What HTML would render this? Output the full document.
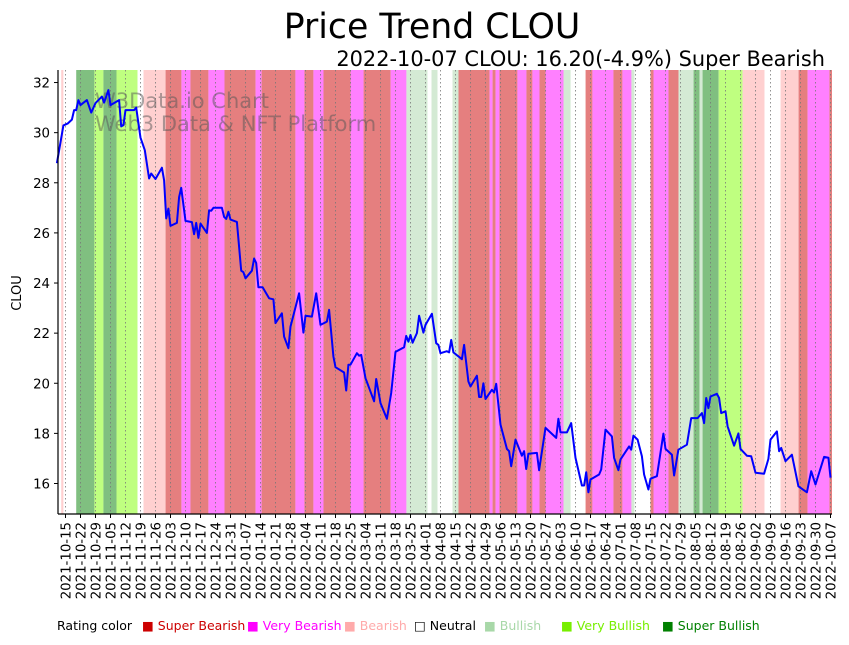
<!DOCTYPE html>
<html><head><meta charset="utf-8">
<style>
html,body{margin:0;padding:0;background:#fff;}
body{width:849px;height:641px;overflow:hidden;position:relative;font-family:"DejaVu Sans","Liberation Sans",sans-serif;}
svg text{font-family:"DejaVu Sans","Liberation Sans",sans-serif;}
</style></head>
<body>
<svg id="chart" width="849" height="641" viewBox="0 0 849 641" xmlns="http://www.w3.org/2000/svg">
  <text x="432" y="38" font-size="34.7" text-anchor="middle" fill="#000">Price Trend CLOU</text>
  <text x="825" y="66" font-size="20.9" text-anchor="end" fill="#000">2022-10-07 CLOU: 16.20(-4.9%) Super Bearish</text>
  <g id="bands"></g>
  <g id="grid"></g>
  <g fill="#555" fill-opacity="0.5" font-size="21">
    <text x="95" y="108">W3Data.io Chart</text>
    <text x="95" y="131">Web3 Data &amp; NFT Platform</text>
  </g>
  <g id="line"></g>
  <g id="axes"></g>
  <text transform="translate(21,293) rotate(-90)" font-size="13" text-anchor="middle">CLOU</text>
  <g font-size="12.5">
    <text x="57" y="630" fill="#000">Rating color</text>
    <text x="142" y="630" fill="#cc0000">■ Super Bearish</text>
    <text x="247" y="630" fill="#ff00ff">■ Very Bearish</text>
    <text x="344" y="630" fill="#ffaaaa">■ Bearish</text>
    <text x="414" y="630" fill="#000">□ Neutral</text>
    <text x="484" y="630" fill="#a8d8a8">■ Bullish</text>
    <text x="561" y="630" fill="#77ee00">■ Very Bullish</text>
    <text x="662" y="630" fill="#008000">■ Super Bullish</text>
  </g>
</svg>
<script>
// day offsets relative to 2021-10-15
const priceDays = [-4,-1,1,3,4,5,6,7,10,12,14,17,18,20,21,25,26,27,28,32,33,35,37,39,40,42,45,46,47,48,49,52,53,54,56,59,60,61,62,63,66,67,68,69,73,74,75,76,77,80,82,83,84,87,88,89,90,92,95,97,98,101,102,104,105,109,111,112,115,117,119,122,123,125,126,130,131,132,133,136,137,138,140,144,145,147,150,152,154,158,159,160,161,162,164,165,167,168,171,173,174,175,178,179,180,181,185,186,188,189,192,193,194,195,196,199,200,201,203,206,207,208,210,213,214,215,216,220,221,224,229,230,231,234,236,238,241,242,243,244,245,249,250,252,255,256,258,259,263,264,265,267,269,270,272,273,276,279,280,283,284,286,290,292,295,297,298,299,300,301,304,305,306,308,309,312,314,315,318,320,322,326,328,329,332,333,334,336,339,342,346,348,350,354,356,357];
const priceValues = [28.78,30.29,30.36,30.52,30.9,30.9,31.3,31.1,31.3,30.8,31.18,31.44,31.2,31.7,31.1,31.3,30.25,30.3,30.9,30.9,31.0,29.8,29.3,28.17,28.37,28.15,28.6,28.1,26.58,26.97,26.28,26.4,27.43,27.8,26.48,26.43,25.95,26.4,25.8,26.37,26.0,26.9,26.88,27.0,27.0,26.64,26.56,26.84,26.53,26.44,24.49,24.43,24.19,24.49,24.98,24.8,23.83,23.83,23.39,23.35,22.4,22.79,21.86,21.4,22.26,23.59,22.02,22.69,22.66,23.59,22.33,22.46,22.93,21.07,20.64,20.43,19.71,20.74,20.74,21.2,21.1,21.13,20.2,19.28,20.17,19.21,18.58,19.61,21.25,21.44,21.89,21.66,21.93,21.62,22.0,22.69,22.02,22.33,22.77,21.6,21.53,21.2,21.28,21.23,21.73,21.23,20.96,21.53,20.07,19.87,20.3,19.45,19.45,20.0,19.37,19.74,19.63,19.98,18.35,17.38,17.29,16.69,17.75,17.11,17.29,16.58,17.19,17.22,16.53,18.22,17.82,18.58,18.04,18.04,18.41,17.02,15.92,15.92,16.45,15.65,16.16,16.36,16.56,18.15,17.88,17.02,16.53,16.96,17.48,17.35,17.91,17.75,17.09,16.36,15.76,16.19,16.29,17.99,17.38,17.15,16.32,17.35,17.55,18.61,18.61,18.81,18.41,19.41,19.01,19.47,19.58,19.41,18.81,18.88,18.28,17.51,18.0,17.38,17.11,17.09,16.43,16.39,16.98,17.75,18.08,17.29,17.42,16.89,17.15,15.89,15.65,16.49,15.96,17.06,17.03,16.23];
const bandStart = [-2,5,13.5,17.7,23.8,36.4,46.7,54.1,58.3,66.7,74.2,88.7,91.5,107.3,111.5,115.7,120.4,133,139.1,151.7,159.1,170.8,180.6,183.4,197.9,199.3,200.7,202.5,210.9,215.1,217.9,221.2,224,232.4,242.7,245.9,255.7,259.9,264.1,273,274.4,281.4,286.1,293.1,295.9,297.3,304.8,316,333.7,342.1,346.3,356.5];
const bandEnd = [-1,13.5,17.7,23.8,33.6,46.7,54.1,58.3,66.7,74.2,88.7,91.5,107.3,111.5,115.7,120.4,133,139.1,151.7,159.1,168.9,173.6,183.4,197.9,199.3,200.7,202.5,210.9,215.1,217.9,221.2,224,232.4,235.7,245.9,255.7,259.9,264.1,265.5,274.4,281.4,286.1,293.1,295.9,297.3,304.8,316,326.2,342.1,346.3,356.5,358];
const bandRating = ['bearish','superbull','verybull','superbull','verybull','bearish','superbear','verybear','superbear','verybear','superbear','verybear','superbear','verybear','superbear','verybear','superbear','verybear','superbear','verybear','bullish','bullish','bullish','superbear','verybear','superbear','verybear','superbear','verybear','superbear','verybear','superbear','verybear','bullish','superbear','verybear','superbear','verybear','bullish','superbear','verybear','superbear','bullish','superbull','bullish','superbull','verybull','bearish','bearish','superbear','verybear','superbear'];
const tickLabels = ['2021-10-15','2021-10-22','2021-10-29','2021-11-05','2021-11-12','2021-11-19','2021-11-26','2021-12-03','2021-12-10','2021-12-17','2021-12-24','2021-12-31','2022-01-07','2022-01-14','2022-01-21','2022-01-28','2022-02-04','2022-02-11','2022-02-18','2022-02-25','2022-03-04','2022-03-11','2022-03-18','2022-03-25','2022-04-01','2022-04-08','2022-04-15','2022-04-22','2022-04-29','2022-05-06','2022-05-13','2022-05-20','2022-05-27','2022-06-03','2022-06-10','2022-06-17','2022-06-24','2022-07-01','2022-07-08','2022-07-15','2022-07-22','2022-07-29','2022-08-05','2022-08-12','2022-08-19','2022-08-26','2022-09-02','2022-09-09','2022-09-16','2022-09-23','2022-09-30','2022-10-07'];
const yTicks = [16,18,20,22,24,26,28,30,32];

const NS='http://www.w3.org/2000/svg';
const PL=58, PR=832, PT=70, PB=514;
const colors={superbear:'#e57f7f',verybear:'#ff80ff',bearish:'#ffd0d0',bullish:'#d4ead4',verybull:'#bfff80',superbull:'#80bf80'};
function xScale(d){return 65.5+d*(765/357);}
function yScale(v){return 483.5-(v-16)*25.06;}
function mk(tag,attrs,parent){const e=document.createElementNS(NS,tag);for(const k in attrs)e.setAttribute(k,attrs[k]);parent.appendChild(e);return e;}

const bands=document.getElementById('bands');
for(let i=0;i<bandStart.length;i++){
  const x0=Math.max(PL,xScale(bandStart[i])), x1=Math.min(PR,xScale(bandEnd[i]));
  const r=mk('rect',{x:x0,y:PT,width:Math.max(0,x1-x0),height:PB-PT,fill:colors[bandRating[i]]},bands);
  
  
}
const grid=document.getElementById('grid');
const axes=document.getElementById('axes');
tickLabels.forEach((lab,i)=>{
  const x=xScale(i*7);
  const g=mk('line',{x1:x,x2:x,y1:PT,y2:PB,stroke:'#777','stroke-width':0.8,'stroke-dasharray':'1.5,2.5'},grid);
  
  
  mk('line',{x1:x,x2:x,y1:PB,y2:PB+4,stroke:'#000','stroke-width':1},axes);
  const t=mk('text',{transform:`translate(${x+5},${PB+8}) rotate(-90)`,'font-size':13.3,'text-anchor':'end'},axes);
  t.textContent=lab;
  
  
});
yTicks.forEach(v=>{
  const y=yScale(v);
  mk('line',{x1:PL-4,x2:PL,y1:y,y2:y,stroke:'#000','stroke-width':1},axes);
  const t=mk('text',{x:PL-8,y:y+5,'font-size':13.3,'text-anchor':'end'},axes);
  t.textContent=String(v);
  
  
});
mk('line',{x1:PL,x2:PL,y1:PT,y2:PB,stroke:'#000','stroke-width':1.2},axes);
mk('line',{x1:PL,x2:PR,y1:PB,y2:PB,stroke:'#000','stroke-width':1.2},axes);

const pts=priceDays.map((d,i)=>xScale(d).toFixed(1)+','+yScale(priceValues[i]).toFixed(1)).join(' ');
const pl=mk('polyline',{points:pts,fill:'none',stroke:'#0000ff','stroke-width':2,'stroke-linejoin':'round'},document.getElementById('line'));


</script>
</body></html>
